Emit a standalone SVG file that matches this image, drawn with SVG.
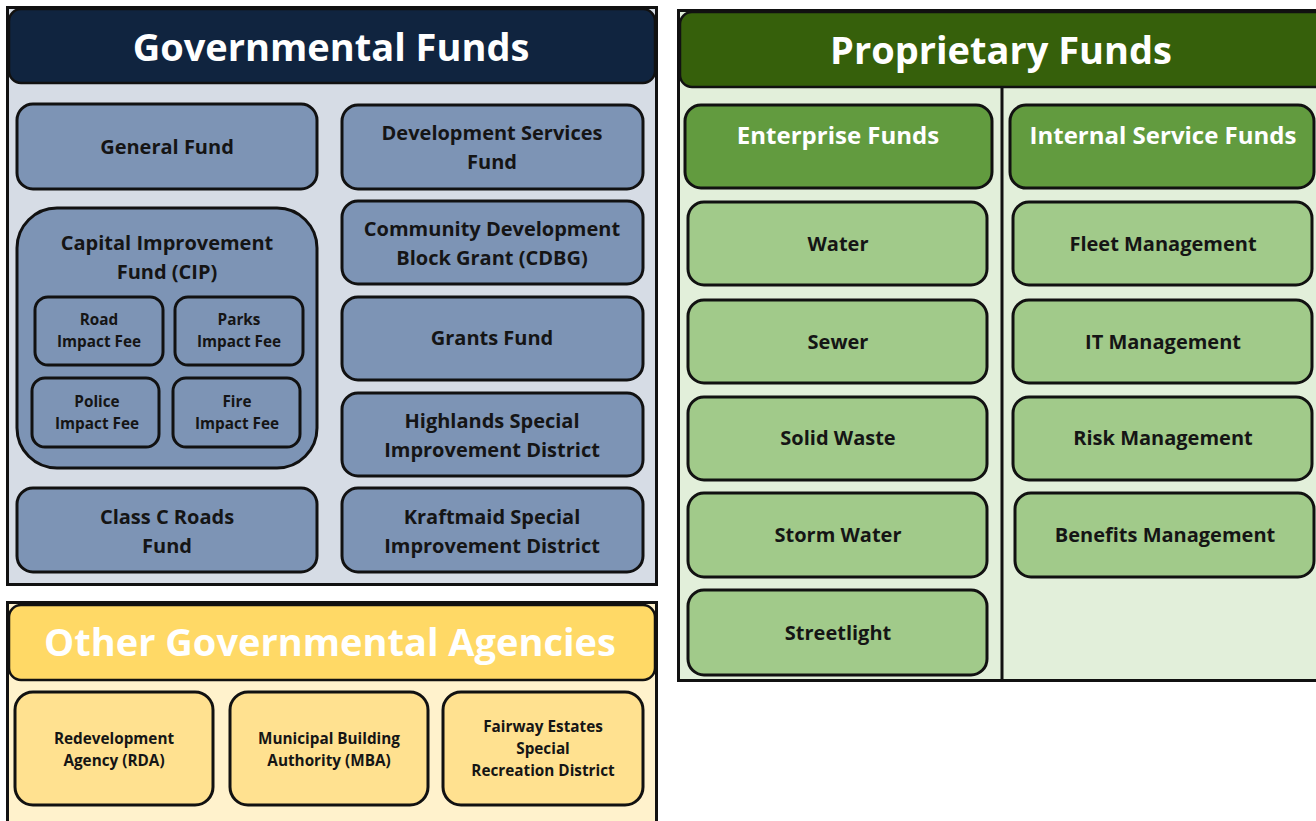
<svg xmlns="http://www.w3.org/2000/svg" width="1316" height="821" viewBox="0 0 1316 821">
<style>
text{font-family:"Open Sans",Lato,"Liberation Sans",sans-serif;font-weight:bold;text-anchor:middle}
.title{fill:#fff;font-size:38px}
.sub{fill:#fff;font-size:24px}
.it{fill:#151515;font-size:20px}
.sm{fill:#151515;font-size:15.3px}
.ag{fill:#151515;font-size:15.3px}
.box{stroke:#111;stroke-width:3}
.g{fill:#7D94B5}
.y{fill:#FFE190}
.gr{fill:#A1CA8A}
.sh{fill:#629B3F}
</style>
<rect width="1316" height="821" fill="#fff"/>
<!-- Governmental Funds panel -->
<g id="governmental-funds">
<rect x="7.5" y="7.5" width="649" height="577" fill="#D6DCE5" stroke="#111" stroke-width="3"/>
<rect x="9" y="9" width="646" height="74" rx="12" fill="#10243F" stroke="#111" stroke-width="2.5"/>
<text class="title" x="331" y="61">Governmental Funds</text>
</g>
<g id="general-fund"><rect class="box g" x="17" y="104" width="300" height="85" rx="16"/><text class="it" x="167" y="154">General Fund</text></g>
<g id="cip"><rect class="box g" x="17" y="208" width="300" height="260" rx="40"/><text class="it" x="167" y="250">Capital Improvement</text><text class="it" x="167" y="279">Fund (CIP)</text></g>
<g id="road"><rect class="box g" x="35" y="297" width="128" height="68" rx="13"/><text class="sm" x="99" y="325">Road</text><text class="sm" x="99" y="347">Impact Fee</text></g>
<g id="parks"><rect class="box g" x="175" y="297" width="128" height="68" rx="13"/><text class="sm" x="239" y="325">Parks</text><text class="sm" x="239" y="347">Impact Fee</text></g>
<g id="police"><rect class="box g" x="32" y="378" width="127" height="69" rx="13"/><text class="sm" x="97" y="407">Police</text><text class="sm" x="97" y="429">Impact Fee</text></g>
<g id="fire"><rect class="box g" x="173" y="378" width="127" height="69" rx="13"/><text class="sm" x="237" y="407">Fire</text><text class="sm" x="237" y="429">Impact Fee</text></g>
<g id="class-c"><rect class="box g" x="17" y="488" width="300" height="84" rx="16"/><text class="it" x="167" y="524">Class C Roads</text><text class="it" x="167" y="553">Fund</text></g>
<g id="dev-services"><rect class="box g" x="342" y="105" width="301" height="84" rx="16"/><text class="it" x="492" y="140">Development Services</text><text class="it" x="492" y="169">Fund</text></g>
<g id="cdbg"><rect class="box g" x="342" y="201" width="301" height="83" rx="16"/><text class="it" x="492" y="236">Community Development</text><text class="it" x="492" y="265">Block Grant (CDBG)</text></g>
<g id="grants"><rect class="box g" x="342" y="297" width="301" height="83" rx="16"/><text class="it" x="492" y="345">Grants Fund</text></g>
<g id="highlands"><rect class="box g" x="342" y="393" width="301" height="83" rx="16"/><text class="it" x="492" y="428">Highlands Special</text><text class="it" x="492" y="457">Improvement District</text></g>
<g id="kraftmaid"><rect class="box g" x="342" y="488" width="301" height="84" rx="16"/><text class="it" x="492" y="524">Kraftmaid Special</text><text class="it" x="492" y="553">Improvement District</text></g>

<!-- Other Governmental Agencies -->
<g id="other-agencies">
<rect x="7.5" y="602.5" width="649" height="230" fill="#FFF2CC" stroke="#111" stroke-width="3"/>
<rect x="9" y="605" width="646" height="75" rx="12" fill="#FFD966" stroke="#111" stroke-width="2.5"/>
<text class="title" x="330" y="656">Other Governmental Agencies</text>
</g>
<g id="rda"><rect class="box y" x="15" y="692" width="198" height="113" rx="18"/><text class="ag" x="114" y="744">Redevelopment</text><text class="ag" x="114" y="766">Agency (RDA)</text></g>
<g id="mba"><rect class="box y" x="230" y="692" width="198" height="113" rx="18"/><text class="ag" x="329" y="744">Municipal Building</text><text class="ag" x="329" y="766">Authority (MBA)</text></g>
<g id="fairway"><rect class="box y" x="443" y="692" width="200" height="113" rx="18"/><text class="ag" x="543" y="732">Fairway Estates</text><text class="ag" x="543" y="754">Special</text><text class="ag" x="543" y="776">Recreation District</text></g>

<!-- Proprietary Funds -->
<g id="proprietary-funds">
<rect x="678.5" y="10.5" width="700" height="670" fill="#E2EFDA" stroke="#111" stroke-width="3"/>
<rect x="680" y="12" width="680" height="75" rx="12" fill="#36600B" stroke="#111" stroke-width="2.5"/>
<line x1="1002" y1="87" x2="1002" y2="680" stroke="#111" stroke-width="3"/>
<text class="title" x="1001" y="64">Proprietary Funds</text>
</g>
<g id="enterprise-funds"><rect class="box sh" x="685" y="105" width="307" height="83" rx="16"/><text class="sub" x="838" y="144">Enterprise Funds</text></g>
<g id="water"><rect class="box gr" x="688" y="202" width="299" height="83" rx="16"/><text class="it" x="838" y="251">Water</text></g>
<g id="sewer"><rect class="box gr" x="688" y="300" width="299" height="83" rx="16"/><text class="it" x="838" y="349">Sewer</text></g>
<g id="solid-waste"><rect class="box gr" x="688" y="397" width="299" height="83" rx="16"/><text class="it" x="838" y="445">Solid Waste</text></g>
<g id="storm-water"><rect class="box gr" x="688" y="493" width="299" height="84" rx="16"/><text class="it" x="838" y="542">Storm Water</text></g>
<g id="streetlight"><rect class="box gr" x="688" y="590" width="299" height="85" rx="16"/><text class="it" x="838" y="640">Streetlight</text></g>
<g id="internal-service-funds"><rect class="box sh" x="1010" y="105" width="304" height="83" rx="16"/><text class="sub" x="1163" y="144">Internal Service Funds</text></g>
<g id="fleet"><rect class="box gr" x="1013" y="202" width="299" height="83" rx="16"/><text class="it" x="1163" y="251">Fleet Management</text></g>
<g id="it-mgmt"><rect class="box gr" x="1013" y="300" width="299" height="83" rx="16"/><text class="it" x="1163" y="349">IT Management</text></g>
<g id="risk"><rect class="box gr" x="1013" y="397" width="299" height="83" rx="16"/><text class="it" x="1163" y="445">Risk Management</text></g>
<g id="benefits"><rect class="box gr" x="1015" y="493" width="299" height="84" rx="16"/><text class="it" x="1165" y="542">Benefits Management</text></g>
<g id="connectors"></g>
</svg>
